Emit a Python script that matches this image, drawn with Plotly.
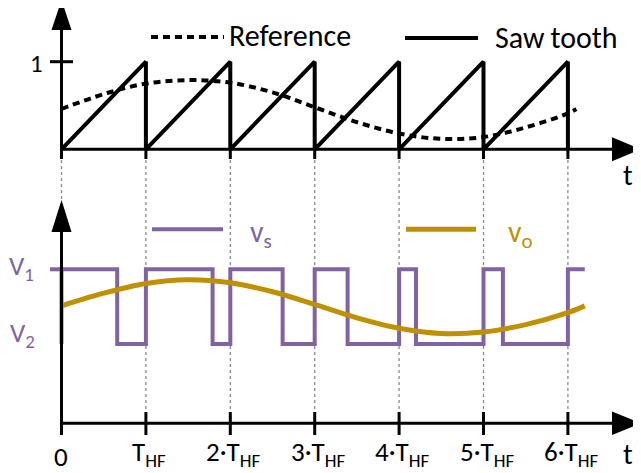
import plotly.graph_objects as go

# ---------------- data ----------------
# time in multiples of T_HF
saw_t = [0, 1, 1, 2, 2, 3, 3, 4, 4, 5, 5, 6, 6]
saw_v = [0, 1, 0, 1, 0, 1, 0, 1, 0, 1, 0, 1, 0]

ref_t = [0, 0.5, 1, 1.5, 2, 2.5, 3, 3.5, 4, 4.5, 5, 5.5, 6, 6.1]
ref_v = [0.46, 0.63, 0.75, 0.79, 0.76, 0.65, 0.48, 0.31, 0.18, 0.12, 0.14, 0.25, 0.41, 0.46]

# switching instants of v_s (rise at start of each period, fall inside it)
vs_rise_t = [0, 1, 2, 3, 4, 5, 6]
vs_fall_t = [0.66, 1.79, 2.62, 3.39, 4.20, 5.23]
vs_end_t = 6.2
V1, V2 = 1.0, 0.0

vo_t = [0, 0.5, 1, 1.5, 2, 2.5, 3, 3.5, 4, 4.5, 5, 5.5, 6, 6.2]
vo_v = [0.51, 0.68, 0.81, 0.86, 0.82, 0.70, 0.53, 0.35, 0.21, 0.14, 0.16, 0.26, 0.42, 0.51]

tick_vals = [0, 1, 2, 3, 4, 5, 6]
tick_text = ["0", "T<sub>HF</sub>", "2·T<sub>HF</sub>", "3·T<sub>HF</sub>",
             "4·T<sub>HF</sub>", "5·T<sub>HF</sub>", "6·T<sub>HF</sub>"]

# build the v_s staircase from the switching instants
vs_t, vs_v = [], []
for i, tr in enumerate(vs_rise_t):
    vs_t += [tr, tr]
    vs_v += [V2, V1]
    if i < len(vs_fall_t):
        tf = vs_fall_t[i]
        vs_t += [tf, tf]
        vs_v += [V1, V2]
vs_t.append(vs_end_t)
vs_v.append(V1)

# ---------------- geometry ----------------
PAGE_W, PAGE_H = 641, 473
OFF = 8                            # page body margin
W, H = PAGE_W - OFF, PAGE_H - OFF
X0_PX, T_PX = 61.5, 84.4          # t = 0 position (page px), pixels per T_HF
TOP0_PX, TOP_UNIT = 149.3, 87.6    # top panel: value 0 row, pixels per unit
BOT0_PX, BOT_UNIT = 344.0, 74.7    # bottom panel: V2 row, pixels per (V1-V2)

PURPLE = "#8064A2"
GOLD = "#BF9000"
GRAY = "#8a8a8a"
FONT = "Carlito, Lato, sans-serif"


def px(xp):
    return (xp - OFF) / W


def py(yp):
    return 1 - (yp - OFF) / H


def t_of(xp):
    return (xp - X0_PX) / T_PX


fig = go.Figure()

fig.add_trace(go.Scatter(x=ref_t, y=ref_v, mode="lines", yaxis="y",
                         line=dict(color="black", width=4, dash="7px,5px", shape="spline")))
fig.add_trace(go.Scatter(x=saw_t, y=saw_v, mode="lines", yaxis="y",
                         line=dict(color="black", width=4)))
fig.add_trace(go.Scatter(x=vs_t, y=vs_v, mode="lines", yaxis="y2",
                         line=dict(color=PURPLE, width=4)))
fig.add_trace(go.Scatter(x=vo_t, y=vo_v, mode="lines", yaxis="y2",
                         line=dict(color=GOLD, width=5, shape="spline")))

shapes = []


def seg(x0, y0, x1, y1, color="black", width=3, dash=None, layer="above"):
    d = dict(type="line", xref="paper", yref="paper",
             x0=px(x0), y0=py(y0), x1=px(x1), y1=py(y1),
             line=dict(color=color, width=width), layer=layer)
    if dash:
        d["line"]["dash"] = dash
    shapes.append(d)


def tri(points, color="black"):
    path = "M " + " L ".join(f"{px(a):.5f},{py(b):.5f}" for a, b in points) + " Z"
    shapes.append(dict(type="path", xref="paper", yref="paper", path=path,
                       fillcolor=color, line=dict(color=color, width=0), layer="above"))


# gray dashed guides
for k in tick_vals:
    xp = X0_PX + k * T_PX
    y_end = 200 if k == 0 else 423
    seg(xp, 160, xp, y_end, color=GRAY, width=1.3, dash="3px,3px", layer="below")

# top panel axes
seg(X0_PX, 26, X0_PX, 159)
seg(X0_PX, TOP0_PX, 614, TOP0_PX)
tri([(X0_PX, 0), (X0_PX - 10, 30), (X0_PX + 10, 30)])
tri([(641, TOP0_PX), (612, TOP0_PX - 12), (612, TOP0_PX + 12)])
seg(50, TOP0_PX - TOP_UNIT, 73, TOP0_PX - TOP_UNIT)
for k in tick_vals[1:]:
    xp = X0_PX + k * T_PX
    seg(xp, TOP0_PX, xp, 159)

# bottom panel axes
seg(X0_PX, 228, X0_PX, 435)
seg(X0_PX, 423.3, 614, 423.3)
tri([(X0_PX, 200), (X0_PX - 10, 232), (X0_PX + 10, 232)])
tri([(641, 423.3), (612, 411.5), (612, 435)])
for k in tick_vals[1:]:
    xp = X0_PX + k * T_PX
    seg(xp, 412, xp, 435)
# V1 level mark left of the axis
seg(50, BOT0_PX - BOT_UNIT, X0_PX, BOT0_PX - BOT_UNIT, color=PURPLE, width=4, layer="below")

# legend glyphs
seg(151, 37, 224, 37, width=4, dash="7px,5px")
seg(405, 38, 478, 38, width=4)
seg(152, 229.3, 223, 229.3, color=PURPLE, width=4)
seg(406, 229.3, 476, 229.3, color=GOLD, width=5)

ann = []


def text(s, xp, yp, size, color="black"):
    ann.append(dict(text=s, x=px(xp), y=py(yp), xref="paper", yref="paper",
                    showarrow=False, xanchor="center", yanchor="middle",
                    font=dict(family=FONT, size=size, color=color)))


text("1", 36, 63, 25)
text("Reference", 290, 36, 30)
text("Saw\u2009tooth", 556, 37, 30)
text("t", 628, 175, 29)
text("t", 628, 454, 29)
text("V<sub>1</sub>", 21, 267, 27, PURPLE)
text("V<sub>2</sub>", 22, 334, 27, PURPLE)
text("v<sub>s</sub>", 261, 233, 30, PURPLE)
text("v<sub>o</sub>", 520, 233, 30, GOLD)
for k, s in zip(tick_vals, tick_text):
    if k == 0:
        text(s, X0_PX, 456, 27)
    else:
        text(s, X0_PX + k * T_PX + 3, 453, 27)

fig.update_layout(
    width=W, height=H,
    margin=dict(l=0, r=0, t=0, b=0, pad=0),
    paper_bgcolor="white", plot_bgcolor="white",
    showlegend=False,
    xaxis=dict(range=[t_of(OFF), t_of(PAGE_W)], visible=False, fixedrange=True),
    yaxis=dict(range=[(TOP0_PX - PAGE_H) / TOP_UNIT, (TOP0_PX - OFF) / TOP_UNIT],
               visible=False, fixedrange=True, domain=[0, 1]),
    yaxis2=dict(range=[(BOT0_PX - PAGE_H) / BOT_UNIT, (BOT0_PX - OFF) / BOT_UNIT],
                visible=False, fixedrange=True, overlaying="y"),
    shapes=shapes, annotations=ann,
)

fig.write_html("out.html")
